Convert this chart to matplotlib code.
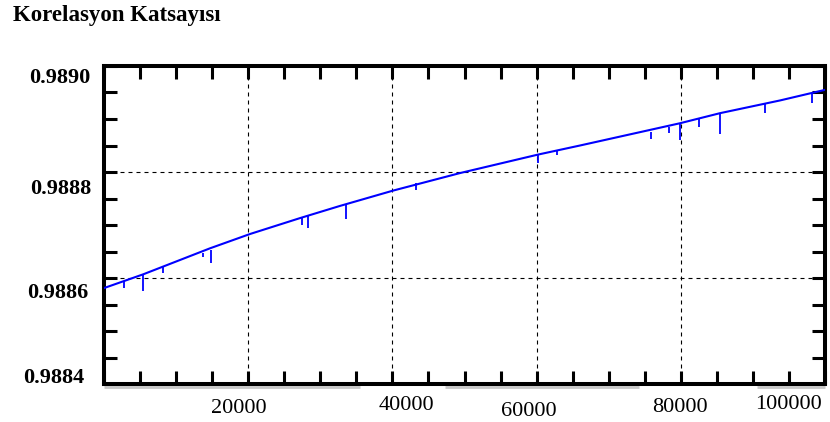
import matplotlib.pyplot as plt
from matplotlib.ticker import MultipleLocator, FixedLocator
from matplotlib.transforms import ScaledTranslation

# curva principal
iter_x = [0, 5450, 14700, 20250, 27180, 32730, 40120, 49380,
          60240, 66020, 79890, 85440, 93760, 100000]
korel_y = [0.988581, 0.988607, 0.988656, 0.988683, 0.988713, 0.988736, 0.988765, 0.988798,
           0.988833, 0.988850, 0.988892, 0.988911, 0.988935, 0.988955]

# picos hacia abajo: posicion, valor arriba, valor abajo
pico_x = [2770, 5410, 8180, 13730, 14840, 27460, 28300, 33570, 43270,
          60190, 62830, 75870, 78370, 79890, 82530, 85440, 91680, 98200]
pico_arriba = [0.988594, 0.988607, 0.988621, 0.988647, 0.988653, 0.988713, 0.988717, 0.988740, 0.988779,
               0.988832, 0.988840, 0.988876, 0.988885, 0.988893, 0.988900, 0.988909, 0.988930, 0.988949]
pico_abajo = [0.988581, 0.988576, 0.988609, 0.988640, 0.988628, 0.988700, 0.988694, 0.988711, 0.988766,
              0.988817, 0.988832, 0.988862, 0.988874, 0.988860, 0.988885, 0.988872, 0.988911, 0.988930]

x_ticks = [20000, 40000, 60000, 80000, 100000]
x_labels = ['20000', '40000', '60000', '80000', '100000']
y_ticks = [0.9884, 0.9886, 0.9888, 0.9890]
y_labels = ['0.9884', '0.9886', '0.9888', '0.9890']

titulo = 'Korelasyon Katsayısı'

fig = plt.figure(figsize=(8.3, 4.22), dpi=100)
ax = fig.add_axes([104/830, 38/422, 721/830, 318/422])

ax.plot(iter_x, korel_y, color='#0000ff', lw=1.5, zorder=3)
ax.vlines(pico_x, pico_abajo, pico_arriba, color='#0000ff', lw=1.3, zorder=3)

ax.set_xlim(0, 100000)
ax.set_ylim(0.9884, 0.9890)

ax.xaxis.set_major_locator(FixedLocator(x_ticks))
ax.xaxis.set_minor_locator(MultipleLocator(5000))
ax.set_xticklabels(x_labels)
ax.yaxis.set_major_locator(FixedLocator(y_ticks))
ax.yaxis.set_minor_locator(MultipleLocator(0.00005))
ax.set_yticklabels(y_labels)

ax.grid(which='major', color='black', linestyle=(0, (3.6, 3.6)), linewidth=0.8)

for s in ax.spines.values():
    s.set_linewidth(2.9)
ax.tick_params(which='both', direction='in', length=9.5, width=2.2,
               top=True, right=True, labeltop=False, labelright=False)
ax.tick_params(axis='x', which='major', pad=10.8)
ax.tick_params(axis='y', which='major', pad=10)

for lab in ax.get_xticklabels():
    lab.set_family('Liberation Serif')
    lab.set_fontsize(16)
for lab in ax.get_yticklabels():
    lab.set_family('Liberation Serif')
    lab.set_fontsize(16)
    lab.set_fontweight('bold')

# desplazamientos de las etiquetas (px), como en el original
x_desp = [(-9, 0), (14, -2.6), (-8, 2.6), (-1, -1.2), (-37, -3.8)]
y_desp = [(-6, -9), (-2, 12), (1, 15), (0, 9)]
for lab, (dx, dy) in zip(ax.get_xticklabels(), x_desp):
    lab.set_transform(lab.get_transform() + ScaledTranslation(dx/100, -dy/100, fig.dpi_scale_trans))
for lab, (dx, dy) in zip(ax.get_yticklabels(), y_desp):
    lab.set_transform(lab.get_transform() + ScaledTranslation(dx/100, -dy/100, fig.dpi_scale_trans))

# sombra gris bajo el eje inferior
for a, b in [(0, 0.355), (0.473, 0.742), (0.906, 1.0)]:
    ax.plot([a, b], [-0.0095, -0.0095], color='#c8c8c8', lw=2.0,
            transform=ax.transAxes, clip_on=False, solid_capstyle='butt')

fig.text(13/830, 1 - 21/422, titulo, fontsize=16.5, fontweight='bold',
         family='Liberation Serif', va='baseline')

fig.savefig('out.png', dpi=100)
